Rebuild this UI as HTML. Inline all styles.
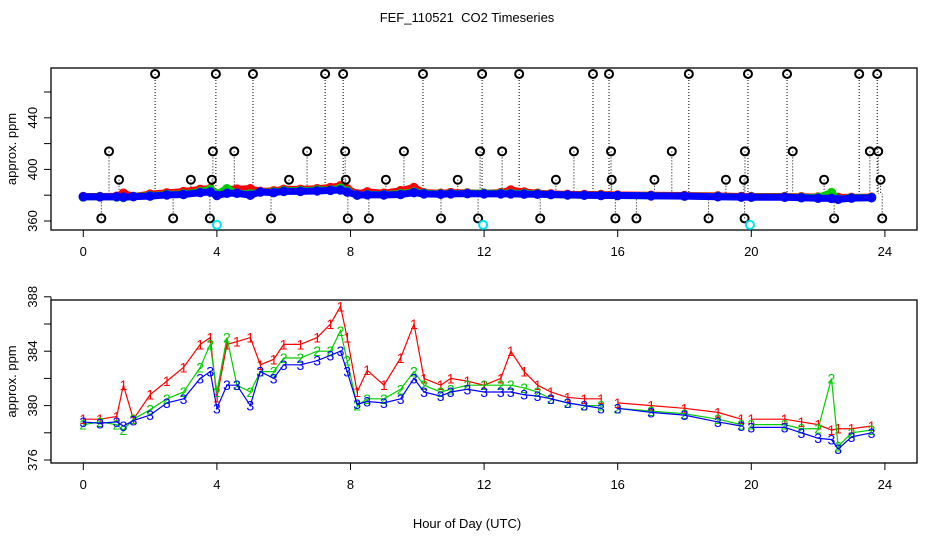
<!DOCTYPE html>
<html><head><meta charset="utf-8"><style>
body{margin:0;background:#fff;}
svg{display:block;font-family:"Liberation Sans",sans-serif;}
</style></head><body>
<svg id="chart" width="936" height="540" viewBox="0 0 936 540">
<text x="467" y="22" text-anchor="middle" font-size="13" style="white-space:pre">FEF_110521  CO2 Timeseries</text>
<text x="467" y="528" text-anchor="middle" font-size="13">Hour of Day (UTC)</text>
<g id="top"></g>
<g id="bot"></g>
</svg>
<script>
const hours=[0,0.5,1,1.2,1.5,2,2.5,3,3.5,3.8,4.0,4.3,4.6,5,5.3,5.7,6,6.5,7,7.4,7.7,7.9,8.2,8.5,9,9.5,9.9,10.2,10.7,11,11.5,12,12.5,12.8,13.2,13.6,14,14.5,15,15.5,16,17,18,19,19.7,20,21,21.5,22,22.4,22.6,23,23.6];
const series1=[379,379,379.2,381.5,379,380.8,381.8,382.8,384.5,385,380.6,384.5,384.7,385,383,383.4,384.5,384.5,385,386,387.3,385,381,382.6,381.5,383.5,386,382,381.5,382,381.8,381.5,382,384,382.5,381.5,381,380.6,380.5,380.5,380.2,380,379.8,379.5,379,379,379,378.8,378.6,378.2,378.3,378.3,378.5];
const series2=[378.6,378.8,378.6,378.2,379,379.7,380.5,381,382.8,384.5,381,385,381.5,381,382.5,382.5,383.5,383.5,384,384,385.5,383.3,380,380.5,380.5,381.2,382.5,381.5,381,381.2,381.5,381.5,381.5,381.5,381.3,381,380.5,380.2,380,380,379.8,379.6,379.4,379,378.6,378.6,378.6,378.3,378.3,382,377,378,378.2];
const series3=[378.8,378.7,378.8,378.5,378.9,379.3,380.2,380.5,382,382.5,379.8,381.5,381.5,380,382.5,382,383,383,383.3,383.7,384,382.5,380.1,380.3,380.2,380.5,382,381,380.7,381,381.2,381,381,381,380.8,380.7,380.5,380.2,380,379.8,379.8,379.5,379.3,378.8,378.5,378.4,378.4,378,377.6,377.5,376.8,377.7,378];
const spikeHours=[2.15,3.97,5.08,7.24,7.78,10.17,11.94,13.05,15.26,15.74,18.13,19.9,21.07,23.23,23.77,
0.77,3.88,4.52,6.7,7.84,9.6,11.88,12.54,14.69,15.8,17.62,19.81,21.24,23.55,23.8,
1.07,3.22,3.85,6.16,7.86,9.06,11.21,14.15,15.82,17.1,19.24,19.78,22.18,23.87,
0.54,2.69,3.79,5.62,7.92,8.55,10.71,11.82,13.68,15.93,16.56,18.72,19.8,22.48,23.92];
const spikeValues=[474,474,474,474,474,474,474,474,474,474,474,474,474,474,474,
414,414,414,414,414,414,414,414,414,414,414,414,414,414,414,
392,392,392,392,392,392,392,392,392,392,392,392,392,392,
362,362,362,362,362,362,362,362,362,362,362,362,362,362,362];
const lowHours=[4.0,11.97,19.96];
const lowValues=[357,357,357];
const xTicks=[0,4,8,12,16,20,24];
const topTicks=[360,380,400,420,440,460];
const topLabels=[360,400,440];
const botTicks=[376,378,380,382,384,386,388];
const botLabels=[376,380,384,388];

const NS="http://www.w3.org/2000/svg";
function mk(p,tag,at){const e=document.createElementNS(NS,tag);for(const k in at)e.setAttribute(k,at[k]);p.appendChild(e);return e;}
const X=h=>83.3+h*33.4;
const Yt=v=>221-(v-360)*1.29;
const Yb=v=>460-(v-376)*13.6;
const cols=["#ff0000","#00cd00","#0000ff"];
const all=[series1,series2,series3];

function frame(g,top,bot,Y,ticks,labels){
  const r=mk(g,'rect',{x:51,y:top,width:866,height:bot-top,fill:'none',stroke:'#000','stroke-width':1.3});
  
  
  xTicks.forEach(t=>{
    mk(g,'line',{x1:X(t),x2:X(t),y1:bot,y2:bot+7,stroke:'#000'});
    const tx=mk(g,'text',{x:X(t),y:bot+26,'text-anchor':'middle','font-size':13});
    tx.textContent=t;
    
    
  });
  ticks.forEach(t=>mk(g,'line',{x1:44,x2:51,y1:Y(t),y2:Y(t),stroke:'#000'}));
  mk(g,'line',{x1:51,x2:51,y1:Y(ticks[0]),y2:Y(ticks[ticks.length-1]),stroke:'#000'});
  labels.forEach(t=>{
    const tx=mk(g,'text',{x:0,y:0,'text-anchor':'middle','font-size':13,transform:`translate(37,${Y(t)}) rotate(-90)`});
    tx.textContent=t;
    
    
  });
  const yl=mk(g,'text',{x:0,y:0,'text-anchor':'middle','font-size':13,transform:`translate(16,${(top+bot)/2}) rotate(-90)`});
  yl.textContent='approx. ppm';
  
  
}

// top panel
const gt=document.getElementById('top');
frame(gt,68,230,Yt,topTicks,topLabels);
spikeHours.forEach((h,i)=>{
  mk(gt,'line',{x1:X(h),x2:X(h),y1:Yt(spikeValues[i]),y2:Yt(381),stroke:'#000','stroke-dasharray':'1,2'});
});
all.forEach((s,k)=>{
  let d='';
  hours.forEach((h,i)=>{d+=(i?'L':'M')+X(h)+' '+Yt(s[i]);});
  const p=mk(gt,'path',{d:d,fill:'none',stroke:cols[k],'stroke-width':7,'stroke-linecap':'round','stroke-linejoin':'round'});
  
  
  hours.forEach((h,i)=>mk(gt,'circle',{cx:X(h),cy:Yt(s[i]),r:4,fill:'none',stroke:cols[k],'stroke-width':1.5}));
});
spikeHours.forEach((h,i)=>{
  const c=mk(gt,'circle',{cx:X(h),cy:Yt(spikeValues[i]),r:4,fill:'none',stroke:'#000','stroke-width':2});
  
  
});
lowHours.forEach((h,i)=>{
  const c=mk(gt,'circle',{cx:X(h),cy:Yt(lowValues[i]),r:4,fill:'none',stroke:'#00e5ee','stroke-width':2});
  
  
});

// bottom panel
const gb=document.getElementById('bot');
frame(gb,300,463,Yb,botTicks,botLabels);
all.forEach((s,k)=>{
  let d='';
  hours.forEach((h,i)=>{
    const gap=(i>0&&((hours[i-1]<15.9&&h>=15.9)||(hours[i-1]<19.9&&h>=19.9)));
    d+=((i&&!gap)?'L':'M')+X(h)+' '+Yb(s[i]);
  });
  const p=mk(gb,'path',{d:d,fill:'none',stroke:cols[k],'stroke-width':1.2});
  
  
  hours.forEach((h,i)=>{
    const t=mk(gb,'text',{x:X(h),y:Yb(s[i])+5,'text-anchor':'middle','font-size':14,fill:cols[k]});
    t.textContent=String(k+1);
    
    
  });
});
</script>
</body></html>
